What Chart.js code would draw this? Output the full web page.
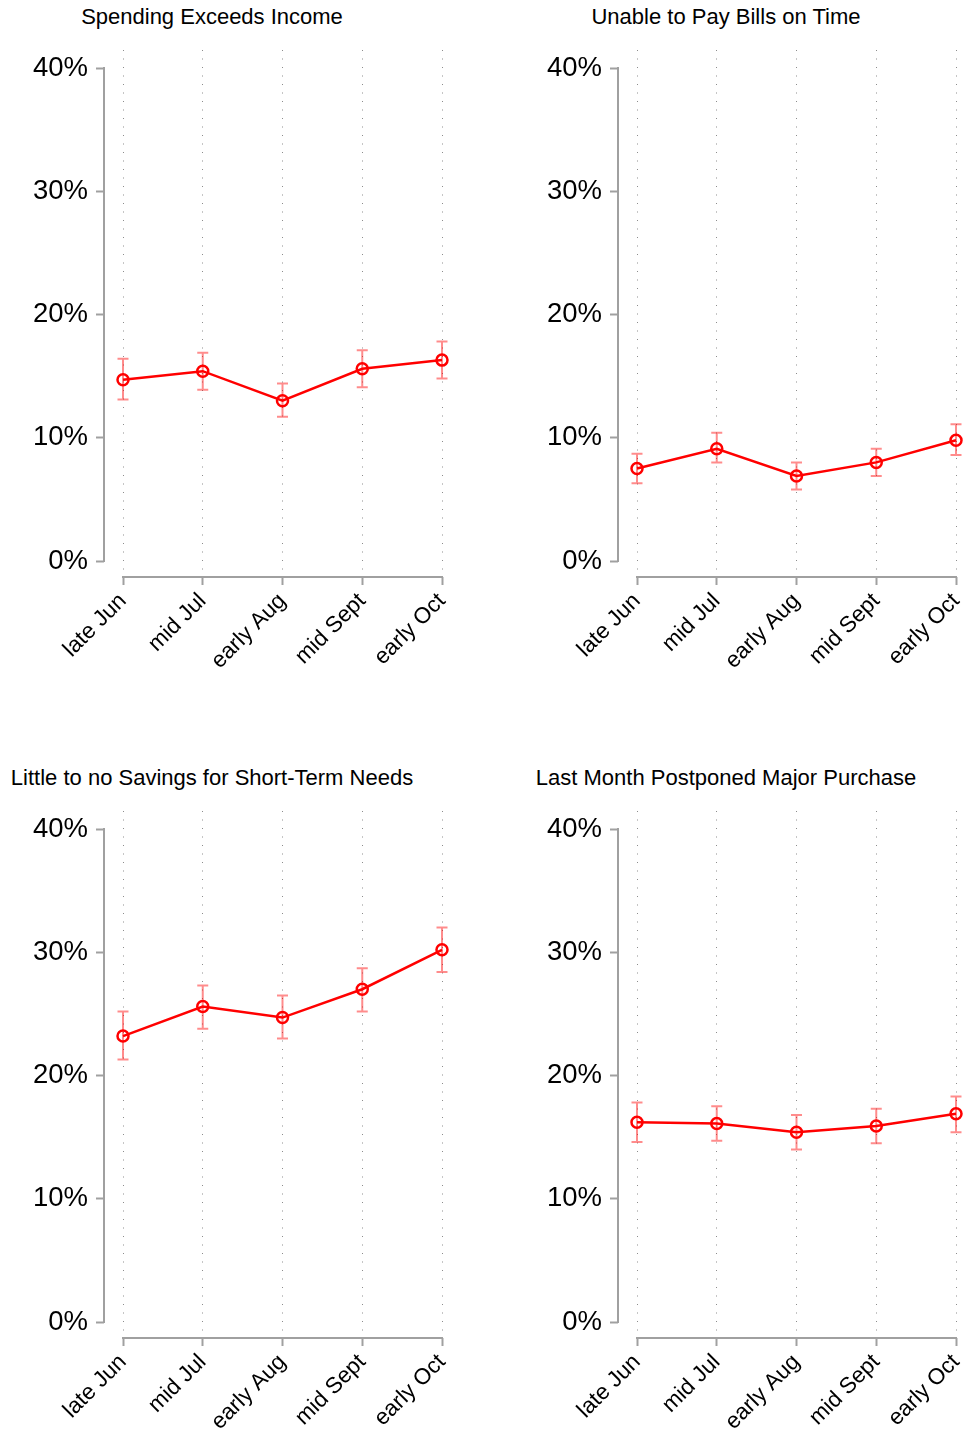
<!DOCTYPE html>
<html>
<head>
<meta charset="utf-8">
<script src="https://cdn.jsdelivr.net/npm/chart.js@4"></script>
<style>
  body { margin: 0; background: #fff; overflow: hidden; }
  #wrap { position: relative; width: 965px; height: 1437px; }
  .title { position: absolute; transform: translateX(-50%); white-space: nowrap;
           font: 22px "Liberation Sans", Arial, Helvetica, sans-serif; color: #000; line-height: 22px; }
  canvas { position: absolute; }
</style>
</head>
<body>
<div id="wrap"></div>
<script>
const categories = ["late Jun", "mid Jul", "early Aug", "mid Sept", "early Oct"];
const yTicks = [0, 10, 20, 30, 40];

const spendingVals = [14.7, 15.4, 13.0, 15.6, 16.3];
const spendingLo = [13.1, 13.9, 11.7, 14.1, 14.8];
const spendingHi = [16.4, 16.9, 14.4, 17.1, 17.8];

const billsVals = [7.5, 9.1, 6.9, 8.0, 9.8];
const billsLo = [6.3, 8.0, 5.8, 6.9, 8.6];
const billsHi = [8.7, 10.4, 8.0, 9.1, 11.1];

const savingsVals = [23.2, 25.6, 24.7, 27.0, 30.2];
const savingsLo = [21.3, 23.8, 23.0, 25.2, 28.4];
const savingsHi = [25.2, 27.3, 26.5, 28.7, 32.0];

const postponedVals = [16.2, 16.1, 15.4, 15.9, 16.9];
const postponedLo = [14.6, 14.7, 14.0, 14.5, 15.4];
const postponedHi = [17.8, 17.5, 16.8, 17.3, 18.3];

Chart.defaults.font.family = '"Liberation Sans", Arial, Helvetica, sans-serif';
Chart.defaults.color = "#000";

const axisGrey = "#a0a0a0";

// error bars + stata-like axis lines
const stataAxes = {
  id: "stataAxes",
  beforeDatasetsDraw(chart, args, opts) {
    const { ctx, chartArea, scales: { x, y } } = chart;
    ctx.save();
    ctx.strokeStyle = "rgba(255, 0, 0, 0.45)";
    ctx.lineWidth = 2;
    opts.lo.forEach((lo, i) => {
      const px = x.getPixelForValue(i);
      const y1 = y.getPixelForValue(lo);
      const y2 = y.getPixelForValue(opts.hi[i]);
      ctx.beginPath();
      ctx.moveTo(px, y1); ctx.lineTo(px, y2);
      ctx.moveTo(px - 5.5, y1); ctx.lineTo(px + 5.5, y1);
      ctx.moveTo(px - 5.5, y2); ctx.lineTo(px + 5.5, y2);
      ctx.stroke();
    });
    ctx.strokeStyle = axisGrey;
    ctx.lineWidth = 2;
    ctx.beginPath();
    ctx.moveTo(chartArea.left, y.getPixelForValue(yTicks[yTicks.length - 1]) - 1);
    ctx.lineTo(chartArea.left, y.getPixelForValue(yTicks[0]) + 1);
    ctx.moveTo(x.getPixelForValue(0) - 1, chartArea.bottom);
    ctx.lineTo(x.getPixelForValue(categories.length - 1) + 1, chartArea.bottom);
    ctx.stroke();
    ctx.restore();
  }
};

const panels = [
  { title: "Spending Exceeds Income", vals: spendingVals, lo: spendingLo, hi: spendingHi, left: 0, top: 30, tx: 212 },
  { title: "Unable to Pay Bills on Time", vals: billsVals, lo: billsLo, hi: billsHi, left: 514, top: 30, tx: 726 },
  { title: "Little to no Savings for Short-Term Needs", vals: savingsVals, lo: savingsLo, hi: savingsHi, left: 0, top: 791, tx: 212 },
  { title: "Last Month Postponed Major Purchase", vals: postponedVals, lo: postponedLo, hi: postponedHi, left: 514, top: 791, tx: 726 }
];

const wrap = document.getElementById("wrap");

panels.forEach(p => {
  const t = document.createElement("div");
  t.className = "title";
  t.textContent = p.title;
  t.style.left = p.tx + "px";
  t.style.top = (p.top - 24) + "px";
  wrap.appendChild(t);

  const cv = document.createElement("canvas");
  cv.width = 451;
  cv.height = 660;
  cv.style.left = p.left + "px";
  cv.style.top = p.top + "px";
  wrap.appendChild(cv);

  new Chart(cv, {
    type: "line",
    data: {
      datasets: [{
        data: p.vals.map((v, i) => ({ x: i, y: v })),
        borderColor: "#ff0000",
        borderWidth: 2.5,
        pointRadius: 5.5,
        pointBorderWidth: 2.5,
        pointBorderColor: "#ff0000",
        pointBackgroundColor: "rgba(0,0,0,0)",
        tension: 0
      }]
    },
    options: {
      responsive: false,
      animation: false,
      layout: { autoPadding: false, padding: { top: 20, left: 0, right: 0, bottom: 0 } },
      plugins: {
        legend: { display: false },
        tooltip: { enabled: false },
        stataAxes: { lo: p.lo, hi: p.hi }
      },
      scales: {
        x: {
          type: "linear",
          min: -19 / 79.75,
          max: 4 + 9 / 79.75,
          afterBuildTicks: s => { s.ticks = categories.map((c, i) => ({ value: i })); },
          afterFit: s => { s.height = 113; s.paddingLeft = 0; s.paddingRight = 0; },
          ticks: {
            callback: v => categories[v],
            minRotation: 45,
            maxRotation: 45,
            autoSkip: false,
            padding: 3,
            font: { size: 22.5 }
          },
          grid: {
            color: "#8c8c8c",
            lineWidth: 1,
            tickLength: 8,
            tickColor: axisGrey,
            tickWidth: 2,
            tickBorderDash: []
          },
          border: { display: false, dash: [1, 7.5] }
        },
        y: {
          min: -16 / 12.325,
          max: 40 + 18 / 12.325,
          afterBuildTicks: s => { s.ticks = yTicks.map(v => ({ value: v })); },
          afterFit: s => { s.width = 104; s.paddingTop = 0; s.paddingBottom = 0; },
          ticks: {
            callback: v => v + "%",
            padding: 8,
            font: { size: 27.5 }
          },
          grid: {
            drawOnChartArea: false,
            tickLength: 8,
            tickColor: axisGrey,
            tickWidth: 2
          },
          border: { display: false }
        }
      }
    },
    plugins: [stataAxes]
  });
});
</script>
</body>
</html>
